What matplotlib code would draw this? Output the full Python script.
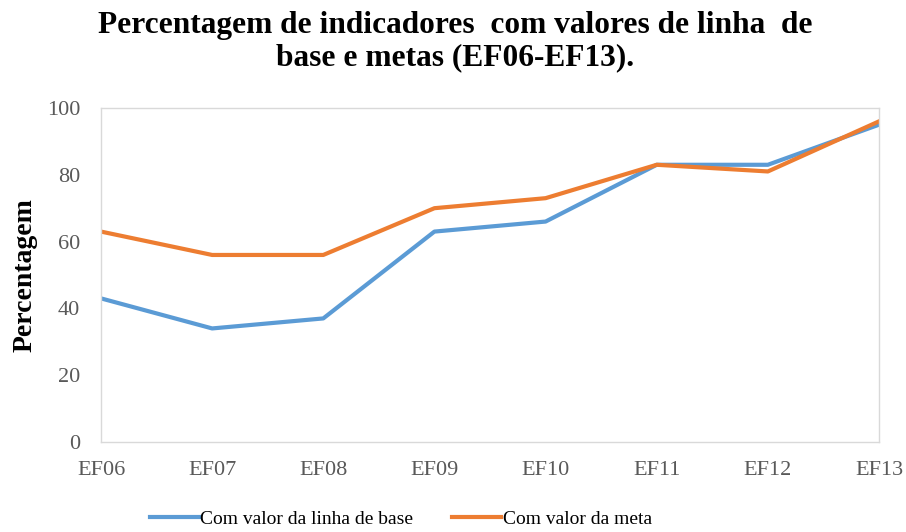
import matplotlib
matplotlib.use('Agg')
from matplotlib import pyplot as plt

# dados
categorias = ['EF06', 'EF07', 'EF08', 'EF09', 'EF10', 'EF11', 'EF12', 'EF13']
linha_base = [43, 34, 37, 63, 66, 83, 83, 95]
meta       = [63, 56, 56, 70, 73, 83, 81, 96]
yticks     = [0, 20, 40, 60, 80, 100]

plt.rcParams['font.family'] = ['Liberation Serif', 'DejaVu Serif']

fig = plt.figure(figsize=(9.06, 5.32), dpi=100)
ax = fig.add_axes([101 / 906, 1 - 442 / 532, 778 / 906, 334 / 532])

x = range(len(categorias))
ax.plot(x, linha_base, color='#5B9BD5', linewidth=3, label='Com valor da linha de base')
ax.plot(x, meta, color='#ED7D31', linewidth=3, label='Com valor da meta')

ax.set_xlim(0, len(categorias) - 1)
ax.set_ylim(0, 100)
ax.set_yticks(yticks)
ax.set_xticks(list(x))
ax.set_xticklabels(categorias)
ax.tick_params(length=0, labelsize=16, labelcolor='#595959')
ax.tick_params(axis='x', pad=14)
ax.tick_params(axis='y', pad=15)

for s in ax.spines.values():
    s.set_color('#D9D9D9')
    s.set_linewidth(1)

fig.text(25 / 906, 1 - 275 / 532, 'Percentagem', rotation=90, ha='center', va='center',
         fontsize=20, fontweight='bold')

fig.text(455 / 906, 1 - 42 / 532, 'Percentagem de indicadores  com valores de linha  de\nbase e metas (EF06-EF13).',
         ha='center', va='center', fontsize=22.6, fontweight='bold', linespacing=1.15)

ax.legend(loc='center', bbox_to_anchor=(401 / 906, 1 - 519 / 532), bbox_transform=fig.transFigure,
          ncol=2, frameon=False, fontsize=14, handlelength=2.5, handletextpad=0.1, columnspacing=2.0)

plt.savefig('out.png', dpi=100)
plt.close('all')
